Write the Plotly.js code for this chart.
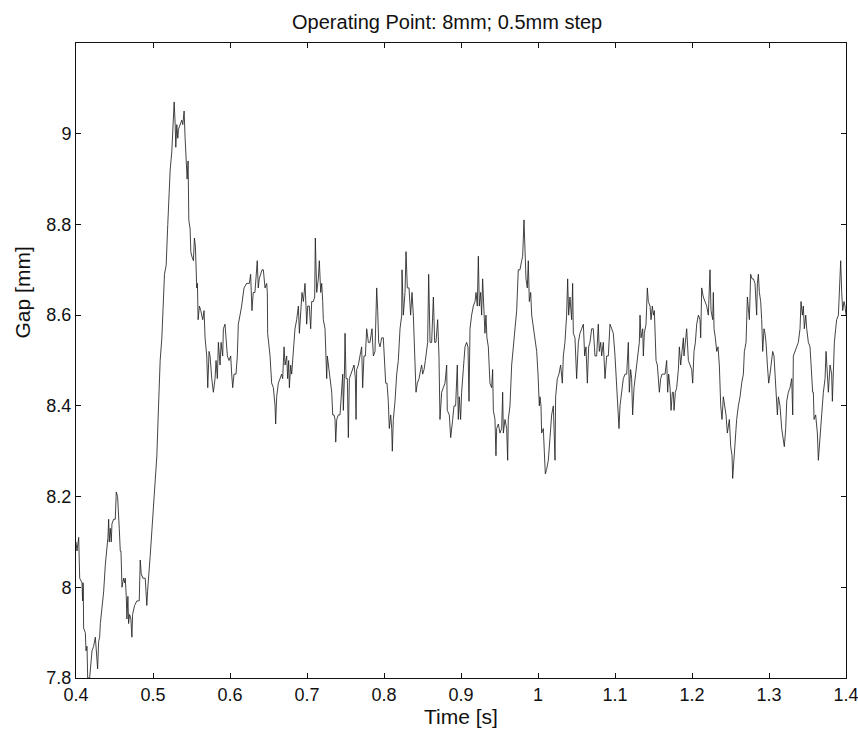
<!DOCTYPE html>
<html>
<head>
<meta charset="utf-8">
<script src="https://cdn.plot.ly/plotly-3.0.1.min.js"></script>
<style>html,body{margin:0;padding:0;background:#fff}#chart{width:858px;height:731px}</style>
</head>
<body>
<div id="chart"></div>
<script>
// Time [s] samples of the segment 0.40 - 0.64 s
const timeA = [0.4000,0.4013,0.4035,0.4043,0.4048,0.4078,0.4086,0.4091,0.4095,0.4099,0.4121,0.4130,0.4143,0.4152,0.4177,0.4208,0.4229,0.4251,0.4273,0.4281,0.4294,0.4307,0.4316,0.4359,0.4381,0.4402,0.4415,0.4424,0.4432,0.4445,0.4458,0.4467,0.4489,0.4510,0.4523,0.4540,0.4553,0.4562,0.4575,0.4584,0.4597,0.4618,0.4631,0.4640,0.4653,0.4661,0.4674,0.4683,0.4696,0.4713,0.4726,0.4735,0.4761,0.4791,0.4812,0.4821,0.4834,0.4847,0.4868,0.4899,0.4920,0.4929,0.4964,0.4985,0.5007,0.5028,0.5050,0.5072,0.5093,0.5115,0.5136,0.5149,0.5171,0.5179,0.5192,0.5210,0.5223,0.5244,0.5257,0.5275,0.5288,0.5296,0.5309,0.5322,0.5331,0.5353,0.5374,0.5387,0.5404,0.5417,0.5430,0.5443,0.5456,0.5465,0.5482,0.5491,0.5504,0.5525,0.5538,0.5551,0.5568,0.5577,0.5586,0.5603,0.5620,0.5646,0.5663,0.5676,0.5698,0.5711,0.5728,0.5741,0.5763,0.5784,0.5806,0.5819,0.5836,0.5849,0.5871,0.5884,0.5905,0.5914,0.5935,0.5948,0.5966,0.5987,0.6009,0.6022,0.6035,0.6052,0.6078,0.6095,0.6108,0.6130,0.6151,0.6182,0.6216,0.6251,0.6268,0.6285,0.6302,0.6324,0.6346,0.6354,0.6367,0.6380];
const gapA = [8.10,8.08,8.11,8.06,8.02,8.01,7.97,8.01,8.00,7.91,7.90,7.86,7.87,7.80,7.80,7.86,7.87,7.89,7.84,7.82,7.88,7.89,7.92,7.99,8.05,8.09,8.11,8.15,8.10,8.13,8.10,8.14,8.15,8.15,8.21,8.20,8.17,8.13,8.08,8.08,8.00,8.02,8.01,8.02,7.98,7.93,7.98,7.92,7.94,7.93,7.89,7.94,7.96,7.97,7.97,7.97,8.06,8.03,8.02,8.02,7.96,7.99,8.07,8.12,8.17,8.24,8.29,8.40,8.50,8.55,8.64,8.69,8.71,8.76,8.80,8.87,8.92,8.96,9.00,9.07,9.02,8.97,9.02,8.99,9.01,9.02,9.03,9.02,9.05,8.99,8.94,8.90,8.94,8.81,8.79,8.74,8.73,8.72,8.77,8.75,8.66,8.67,8.59,8.62,8.61,8.59,8.61,8.55,8.51,8.44,8.52,8.51,8.46,8.43,8.46,8.50,8.46,8.54,8.49,8.54,8.51,8.57,8.58,8.54,8.51,8.50,8.51,8.47,8.44,8.47,8.47,8.51,8.58,8.60,8.62,8.66,8.67,8.67,8.69,8.61,8.65,8.65,8.69,8.72,8.66,8.68];

// segment 0.64 - 0.87 s
const timeB = [0.6416,0.6433,0.6455,0.6476,0.6485,0.6489,0.6520,0.6541,0.6563,0.6585,0.6593,0.6606,0.6628,0.6650,0.6671,0.6684,0.6702,0.6715,0.6736,0.6749,0.6762,0.6771,0.6788,0.6801,0.6814,0.6831,0.6844,0.6866,0.6888,0.6901,0.6918,0.6935,0.6953,0.6974,0.6987,0.6996,0.7009,0.7030,0.7048,0.7061,0.7082,0.7100,0.7108,0.7126,0.7147,0.7160,0.7178,0.7191,0.7204,0.7212,0.7234,0.7247,0.7256,0.7264,0.7277,0.7299,0.7308,0.7321,0.7334,0.7351,0.7364,0.7373,0.7386,0.7407,0.7429,0.7451,0.7464,0.7472,0.7485,0.7494,0.7507,0.7524,0.7537,0.7550,0.7567,0.7589,0.7611,0.7628,0.7637,0.7645,0.7667,0.7688,0.7710,0.7723,0.7740,0.7758,0.7775,0.7797,0.7818,0.7844,0.7862,0.7883,0.7905,0.7918,0.7931,0.7948,0.7970,0.7991,0.8004,0.8022,0.8039,0.8056,0.8069,0.8087,0.8100,0.8108,0.8121,0.8143,0.8165,0.8186,0.8208,0.8230,0.8234,0.8251,0.8273,0.8286,0.8303,0.8325,0.8346,0.8364,0.8381,0.8394,0.8403,0.8416,0.8433,0.8455,0.8476,0.8489,0.8502,0.8520,0.8537,0.8554,0.8567,0.8580,0.8598,0.8619,0.8641,0.8658,0.8675,0.8697,0.8714];
const gapB = [8.70,8.70,8.66,8.67,8.65,8.56,8.51,8.45,8.44,8.40,8.36,8.42,8.45,8.46,8.47,8.46,8.53,8.49,8.51,8.46,8.50,8.44,8.49,8.47,8.50,8.55,8.57,8.59,8.62,8.56,8.62,8.65,8.63,8.67,8.62,8.58,8.62,8.62,8.57,8.63,8.63,8.64,8.77,8.65,8.68,8.72,8.65,8.67,8.63,8.59,8.57,8.52,8.46,8.51,8.49,8.46,8.44,8.43,8.38,8.38,8.37,8.32,8.37,8.38,8.38,8.44,8.47,8.39,8.46,8.56,8.46,8.46,8.33,8.46,8.47,8.48,8.49,8.46,8.37,8.48,8.49,8.51,8.53,8.44,8.51,8.51,8.57,8.54,8.54,8.57,8.51,8.52,8.66,8.61,8.54,8.53,8.55,8.55,8.50,8.45,8.45,8.41,8.35,8.38,8.35,8.30,8.37,8.41,8.47,8.50,8.57,8.60,8.70,8.60,8.65,8.74,8.66,8.66,8.60,8.65,8.60,8.54,8.50,8.43,8.45,8.46,8.48,8.49,8.47,8.48,8.50,8.53,8.54,8.69,8.54,8.54,8.64,8.54,8.54,8.59,8.51];

// segment 0.87 - 1.13 s
const timeC = [0.8727,0.8749,0.8770,0.8792,0.8814,0.8822,0.8848,0.8866,0.8892,0.8909,0.8930,0.8952,0.8965,0.8978,0.8995,0.9008,0.9030,0.9052,0.9073,0.9091,0.9104,0.9117,0.9138,0.9160,0.9182,0.9195,0.9212,0.9225,0.9238,0.9255,0.9268,0.9281,0.9298,0.9311,0.9324,0.9337,0.9355,0.9376,0.9398,0.9411,0.9420,0.9441,0.9454,0.9463,0.9485,0.9506,0.9528,0.9541,0.9550,0.9571,0.9593,0.9606,0.9614,0.9636,0.9658,0.9679,0.9701,0.9723,0.9744,0.9766,0.9788,0.9801,0.9818,0.9831,0.9844,0.9861,0.9874,0.9887,0.9905,0.9918,0.9939,0.9961,0.9983,1.0000,1.0017,1.0026,1.0039,1.0047,1.0069,1.0082,1.0095,1.0112,1.0134,1.0156,1.0177,1.0199,1.0221,1.0229,1.0251,1.0272,1.0294,1.0316,1.0329,1.0350,1.0372,1.0385,1.0398,1.0415,1.0437,1.0450,1.0459,1.0480,1.0502,1.0524,1.0545,1.0567,1.0589,1.0606,1.0623,1.0641,1.0658,1.0675,1.0697,1.0718,1.0740,1.0762,1.0783,1.0796,1.0814,1.0827,1.0848,1.0870,1.0892,1.0913,1.0935,1.0957,1.0978,1.1000,1.1022,1.1043,1.1052,1.1065,1.1087,1.1108,1.1130,1.1152,1.1173,1.1186,1.1203,1.1216,1.1229,1.1247,1.1268,1.1290,1.1316];
const gapC = [8.37,8.43,8.44,8.45,8.49,8.39,8.38,8.33,8.37,8.40,8.40,8.49,8.37,8.42,8.37,8.43,8.48,8.53,8.54,8.53,8.41,8.57,8.60,8.62,8.63,8.65,8.62,8.73,8.62,8.65,8.60,8.68,8.61,8.56,8.60,8.55,8.53,8.45,8.44,8.48,8.39,8.37,8.29,8.35,8.36,8.34,8.35,8.43,8.34,8.37,8.35,8.28,8.37,8.40,8.49,8.53,8.57,8.61,8.70,8.70,8.72,8.73,8.81,8.71,8.68,8.66,8.72,8.63,8.65,8.60,8.57,8.54,8.52,8.47,8.40,8.42,8.40,8.34,8.35,8.30,8.25,8.26,8.28,8.33,8.38,8.40,8.28,8.42,8.46,8.47,8.49,8.45,8.51,8.54,8.60,8.68,8.60,8.64,8.59,8.67,8.56,8.55,8.46,8.54,8.56,8.57,8.58,8.51,8.53,8.45,8.53,8.54,8.57,8.57,8.51,8.51,8.58,8.52,8.54,8.51,8.54,8.46,8.51,8.51,8.58,8.57,8.56,8.51,8.45,8.40,8.35,8.40,8.43,8.46,8.47,8.47,8.54,8.43,8.48,8.46,8.38,8.44,8.47,8.51,8.54];

// segment 1.13 - 1.40 s
const timeD = [1.1325,1.1338,1.1360,1.1368,1.1381,1.1403,1.1420,1.1433,1.1455,1.1468,1.1485,1.1498,1.1511,1.1520,1.1533,1.1550,1.1563,1.1576,1.1593,1.1611,1.1628,1.1650,1.1671,1.1684,1.1697,1.1715,1.1728,1.1745,1.1758,1.1767,1.1784,1.1801,1.1823,1.1836,1.1853,1.1870,1.1888,1.1896,1.1914,1.1931,1.1953,1.1974,1.1996,1.2009,1.2026,1.2044,1.2061,1.2083,1.2104,1.2113,1.2126,1.2147,1.2169,1.2191,1.2212,1.2234,1.2247,1.2269,1.2277,1.2286,1.2303,1.2321,1.2338,1.2355,1.2373,1.2390,1.2407,1.2425,1.2442,1.2459,1.2485,1.2503,1.2520,1.2528,1.2546,1.2563,1.2580,1.2602,1.2624,1.2645,1.2667,1.2680,1.2702,1.2719,1.2732,1.2745,1.2762,1.2780,1.2797,1.2818,1.2840,1.2849,1.2862,1.2875,1.2892,1.2905,1.2918,1.2935,1.2948,1.2961,1.2979,1.2996,1.3013,1.3035,1.3048,1.3065,1.3078,1.3091,1.3109,1.3122,1.3143,1.3165,1.3186,1.3199,1.3217,1.3230,1.3251,1.3273,1.3295,1.3308,1.3316,1.3338,1.3360,1.3381,1.3403,1.3416,1.3433,1.3446,1.3459,1.3477,1.3490,1.3511,1.3533,1.3554,1.3567,1.3576,1.3585,1.3606,1.3628,1.3641,1.3663,1.3684,1.3706,1.3728,1.3741,1.3758,1.3771,1.3793,1.3814,1.3823,1.3836,1.3849,1.3866,1.3879,1.3901,1.3913,1.3931,1.3944,1.3957,1.3974,1.3987,1.4000];
const gapD = [8.60,8.55,8.57,8.51,8.56,8.58,8.66,8.63,8.62,8.59,8.62,8.60,8.61,8.56,8.50,8.49,8.46,8.43,8.46,8.47,8.47,8.47,8.50,8.43,8.47,8.44,8.39,8.43,8.43,8.39,8.43,8.44,8.48,8.53,8.49,8.53,8.55,8.51,8.54,8.57,8.50,8.49,8.48,8.45,8.52,8.54,8.58,8.60,8.59,8.55,8.66,8.64,8.63,8.62,8.60,8.70,8.61,8.59,8.65,8.57,8.55,8.52,8.53,8.49,8.40,8.37,8.42,8.40,8.38,8.34,8.37,8.31,8.29,8.24,8.29,8.34,8.37,8.40,8.42,8.45,8.47,8.52,8.54,8.64,8.62,8.59,8.69,8.68,8.68,8.67,8.60,8.67,8.69,8.65,8.63,8.59,8.52,8.57,8.56,8.54,8.49,8.45,8.47,8.50,8.52,8.51,8.47,8.43,8.38,8.42,8.40,8.35,8.33,8.31,8.35,8.41,8.43,8.44,8.46,8.38,8.51,8.52,8.53,8.54,8.57,8.63,8.60,8.62,8.57,8.60,8.57,8.54,8.53,8.46,8.43,8.43,8.37,8.38,8.34,8.28,8.34,8.38,8.43,8.46,8.52,8.45,8.43,8.49,8.47,8.41,8.49,8.54,8.57,8.59,8.60,8.65,8.72,8.65,8.61,8.63,8.62,8.60];

const xTicks = [0.4,0.5,0.6,0.7,0.8,0.9,1.0,1.1,1.2,1.3,1.4];
const xTickText = ['0.4','0.5','0.6','0.7','0.8','0.9','1','1.1','1.2','1.3','1.4'];
const yTicks = [7.8,8.0,8.2,8.4,8.6,8.8,9.0];
const yTickText = ['7.8','8','8.2','8.4','8.6','8.8','9'];

const t = timeA.concat(timeB, timeC, timeD);
const g = gapA.concat(gapB, gapC, gapD);

const fontFam = 'Liberation Sans, Arial, Helvetica, sans-serif';
const axisCommon = {
  showline: true, mirror: 'ticks', linecolor: '#111', linewidth: 1,
  ticks: 'inside', ticklen: 5, tickcolor: '#111', tickwidth: 1,
  showgrid: false, zeroline: false, ticklabeloverflow: 'allow',
  tickfont: {family: fontFam, size: 18, color: '#111'}
};

Plotly.newPlot('chart', [{
  x: t, y: g, type: 'scatter', mode: 'lines',
  line: {color: '#222', width: 0.85},
  hoverinfo: 'skip'
}], {
  width: 858, height: 731,
  margin: {l: 76, r: 12, t: 43, b: 53},
  paper_bgcolor: '#fff', plot_bgcolor: '#fff',
  showlegend: false,
  title: {text: 'Operating Point: 8mm; 0.5mm step', x: 0.482, xref: 'paper', xanchor: 'center',
          y: 18, yref: 'container', yanchor: 'middle',
          font: {family: fontFam, size: 20, color: '#111'}},
  xaxis: Object.assign({}, axisCommon, {
    range: [0.4, 1.4], tickmode: 'array', tickvals: xTicks, ticktext: xTickText,
    title: {text: 'Time [s]', font: {family: fontFam, size: 21, color: '#111'}, standoff: 2}
  }),
  yaxis: Object.assign({}, axisCommon, {
    range: [7.8, 9.2], tickmode: 'array', tickvals: yTicks, ticktext: yTickText
  }),
  annotations: [{
    text: 'Gap [mm]', xref: 'paper', yref: 'y', x: 0, y: 8.65,
    xanchor: 'center', yanchor: 'middle', xshift: -54, textangle: -90, showarrow: false,
    font: {family: fontFam, size: 21, color: '#111'}
  }]
}, {displayModeBar: false, staticPlot: true});
</script>
</body>
</html>
